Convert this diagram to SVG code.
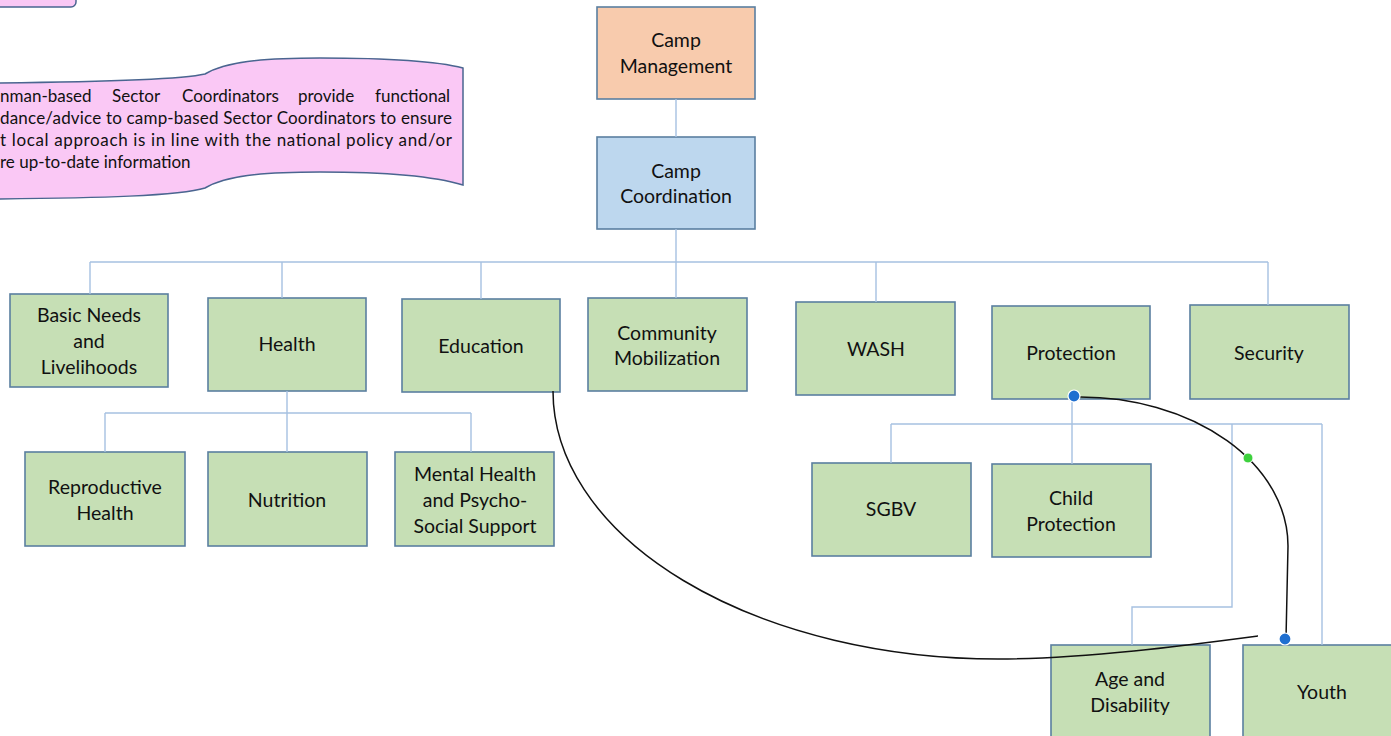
<svg xmlns="http://www.w3.org/2000/svg" width="1391" height="736" viewBox="0 0 1391 736">
<style>
.box{stroke:#5A7FA0;stroke-width:1.6}
.g{fill:#C6DFB5}
.t{font-family:Lato,"Liberation Sans",sans-serif;font-size:19.5px;fill:#111;text-anchor:middle}
.n{font-family:Lato,"Liberation Sans",sans-serif;font-size:17px;fill:#111}
.c{fill:none;stroke:#A6C1E1;stroke-width:1.4}
.k{fill:none;stroke:#111;stroke-width:1.5}
</style>
<rect width="1391" height="736" fill="#ffffff"/>
<g id="note-top">
<rect x="-20" y="-30" width="96" height="37" rx="5" fill="#FAC8F5" stroke="#4A6590" stroke-width="1.5"/>
</g>
<g id="note-banner">
<path d="M-10,83 C100,82 180,80 205,74 C225,62 260,58 320,58 C400,58 440,62 463,68 L463,185 C440,178 400,172 320,172 C260,172 225,176 205,188 C180,196 100,198 -10,199 Z" fill="#FAC8F5" stroke="#4A6590" stroke-width="1.5"/>
<text class="n" y="102"><tspan x="0">nman-based</tspan><tspan x="112">Sector</tspan><tspan x="182">Coordinators</tspan><tspan x="298">provide</tspan><tspan x="375">functional</tspan></text>
<text class="n" x="0" y="124" textLength="452" lengthAdjust="spacing">dance/advice to camp-based Sector Coordinators to ensure</text>
<text class="n" x="0" y="146" textLength="452" lengthAdjust="spacing">t local approach is in line with the national policy and/or</text>
<text class="n" x="0" y="168">re up-to-date information</text>
</g>
<g id="camp-management">
<rect class="box" x="597" y="7" width="158" height="92" fill="#F8CBAD"/>
<text class="t" x="676" y="47">Camp</text>
<text class="t" x="676" y="73">Management</text>
</g>
<g id="camp-coordination">
<rect class="box" x="597" y="137" width="158" height="92" fill="#BDD7EE"/>
<text class="t" x="676" y="178">Camp</text>
<text class="t" x="676" y="203">Coordination</text>
</g>
<g id="basic-needs">
<rect class="box g" x="10" y="294" width="158" height="93"/>
<text class="t" x="89" y="322">Basic Needs</text>
<text class="t" x="89" y="348">and</text>
<text class="t" x="89" y="374">Livelihoods</text>
</g>
<g id="health">
<rect class="box g" x="208" y="298" width="158" height="93"/>
<text class="t" x="287" y="351">Health</text>
</g>
<g id="education">
<rect class="box g" x="402" y="299" width="158" height="93"/>
<text class="t" x="481" y="353">Education</text>
</g>
<g id="community-mobilization">
<rect class="box g" x="588" y="298" width="159" height="93"/>
<text class="t" x="667" y="340">Community</text>
<text class="t" x="667" y="365">Mobilization</text>
</g>
<g id="wash">
<rect class="box g" x="796" y="302" width="159" height="93"/>
<text class="t" x="876" y="356">WASH</text>
</g>
<g id="protection">
<rect class="box g" x="992" y="306" width="158" height="93"/>
<text class="t" x="1071" y="360">Protection</text>
</g>
<g id="security">
<rect class="box g" x="1190" y="305" width="159" height="94"/>
<text class="t" x="1269" y="360">Security</text>
</g>
<g id="reproductive-health">
<rect class="box g" x="25" y="452" width="160" height="94"/>
<text class="t" x="105" y="494">Reproductive</text>
<text class="t" x="105" y="520">Health</text>
</g>
<g id="nutrition">
<rect class="box g" x="208" y="452" width="159" height="94"/>
<text class="t" x="287" y="507">Nutrition</text>
</g>
<g id="mental-health">
<rect class="box g" x="395" y="452" width="159" height="94"/>
<text class="t" x="475" y="481">Mental Health</text>
<text class="t" x="475" y="507">and Psycho-</text>
<text class="t" x="475" y="533">Social Support</text>
</g>
<g id="sgbv">
<rect class="box g" x="812" y="463" width="159" height="93"/>
<text class="t" x="891" y="516">SGBV</text>
</g>
<g id="child-protection">
<rect class="box g" x="992" y="464" width="159" height="93"/>
<text class="t" x="1071" y="505">Child</text>
<text class="t" x="1071" y="531">Protection</text>
</g>
<g id="age-disability">
<rect class="box g" x="1051" y="645" width="159" height="100"/>
<text class="t" x="1130" y="686">Age and</text>
<text class="t" x="1130" y="712">Disability</text>
</g>
<g id="youth">
<rect class="box g" x="1243" y="645" width="159" height="100"/>
<text class="t" x="1322" y="699">Youth</text>
</g>
<g id="connectors">
<path class="c" d="M676,99 V137 M676,229 V263 M90,262 H1268 M90,262 V294 M282,262 V298 M481,262 V299 M676,262 V298 M876,262 V302 M1268,262 V305"/>
<path class="c" d="M287,391 V452 M105,413 H471 M105,413 V452 M471,413 V452"/>
<path class="c" d="M1072,399 V464 M891,424 H1322 M891,424 V463 M1232,424 V607 H1132 V645 M1322,424 V645"/>
<path class="k" d="M553,391 A445,268 0 0 0 998,659 C1085,659 1190,645 1258,636"/>
<path class="k" d="M1080,397 A208,149 0 0 1 1288,546 L1286,639"/>
<circle cx="1074" cy="396" r="6" fill="#1F6FD0" stroke="#ffffff" stroke-width="1.2"/>
<circle cx="1248" cy="458" r="5" fill="#3DD13D" stroke="#ffffff" stroke-width="1"/>
<circle cx="1285" cy="639" r="6" fill="#1F6FD0" stroke="#ffffff" stroke-width="1.2"/>
</g>
</svg>
